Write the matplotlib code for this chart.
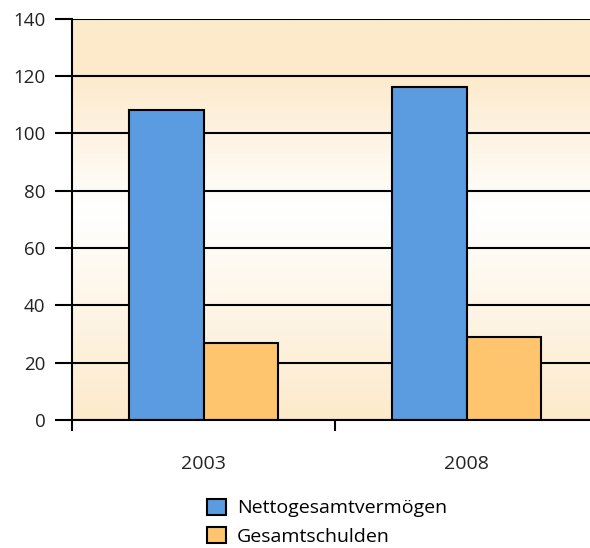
import numpy as np
import matplotlib
matplotlib.use("Agg")
import matplotlib.pyplot as plt
from matplotlib.colors import LinearSegmentedColormap

plt.rcParams['font.family'] = ['Open Sans', 'DejaVu Sans']

# Data
years = ["2003", "2008"]
net_wealth = [108, 116]
total_debt = [27, 29]
series_labels = ["Nettogesamtvermögen", "Gesamtschulden"]
y_ticks = [0, 20, 40, 60, 80, 100, 120, 140]

blue = "#5B9BE0"
orange = "#FFC46E"
cream = "#FDEACB"

fig = plt.figure(figsize=(5.90, 5.48), dpi=100)
ax = fig.add_axes([72 / 590, 128 / 548, 526 / 590, 401.5 / 548])

x = np.arange(len(years))
w = 0.285
ax.set_xlim(-0.5, len(years) - 0.5)
ax.set_ylim(0, 140)

# Vertical cream-white-cream background gradient
grad_cmap = LinearSegmentedColormap.from_list(
    "bg", [(0.0, cream), (0.52, "#FFFFFF"), (0.86, cream), (1.0, cream)])
grad = np.linspace(0, 1, 256).reshape(-1, 1)
ax.imshow(grad, cmap=grad_cmap, origin="lower", aspect="auto",
          extent=(-0.5, len(years) - 0.5, 0, 140), zorder=0)

ax.bar(x - w / 2, net_wealth, w, color=blue, edgecolor="black",
       linewidth=1.5, zorder=3, label=series_labels[0])
ax.bar(x + w / 2, total_debt, w, color=orange, edgecolor="black",
       linewidth=1.5, zorder=3, label=series_labels[1])

ax.set_yticks(y_ticks)
ax.yaxis.grid(True, color="black", linewidth=1.5, zorder=1)
ax.set_axisbelow(False)
for gl in ax.yaxis.get_gridlines():
    gl.set_zorder(1)

ax.set_xticks(x)
ax.set_xticklabels(years)
ax.set_xticks(np.arange(-0.5, len(years)), minor=True)
ax.tick_params(axis="x", which="major", length=0, pad=25, labelsize=14,
               labelcolor="#222222")
ax.tick_params(axis="x", which="minor", length=8, width=1.5, direction="out")
ax.tick_params(axis="y", length=12, width=1.5, direction="out", pad=7,
               labelsize=13.5, labelcolor="#222222")

for s in ["top", "right"]:
    ax.spines[s].set_visible(False)
for s in ["left", "bottom"]:
    ax.spines[s].set_linewidth(1.5)
    ax.spines[s].set_zorder(4)

fig.legend(loc="upper left", bbox_to_anchor=(207 / 590, 1 - 499 / 548),
           frameon=False, fontsize=14, handlelength=1.0, handleheight=0.85,
           handletextpad=0.55, labelspacing=0.5, borderpad=0, borderaxespad=0)

fig.savefig("out.png", dpi=100)
